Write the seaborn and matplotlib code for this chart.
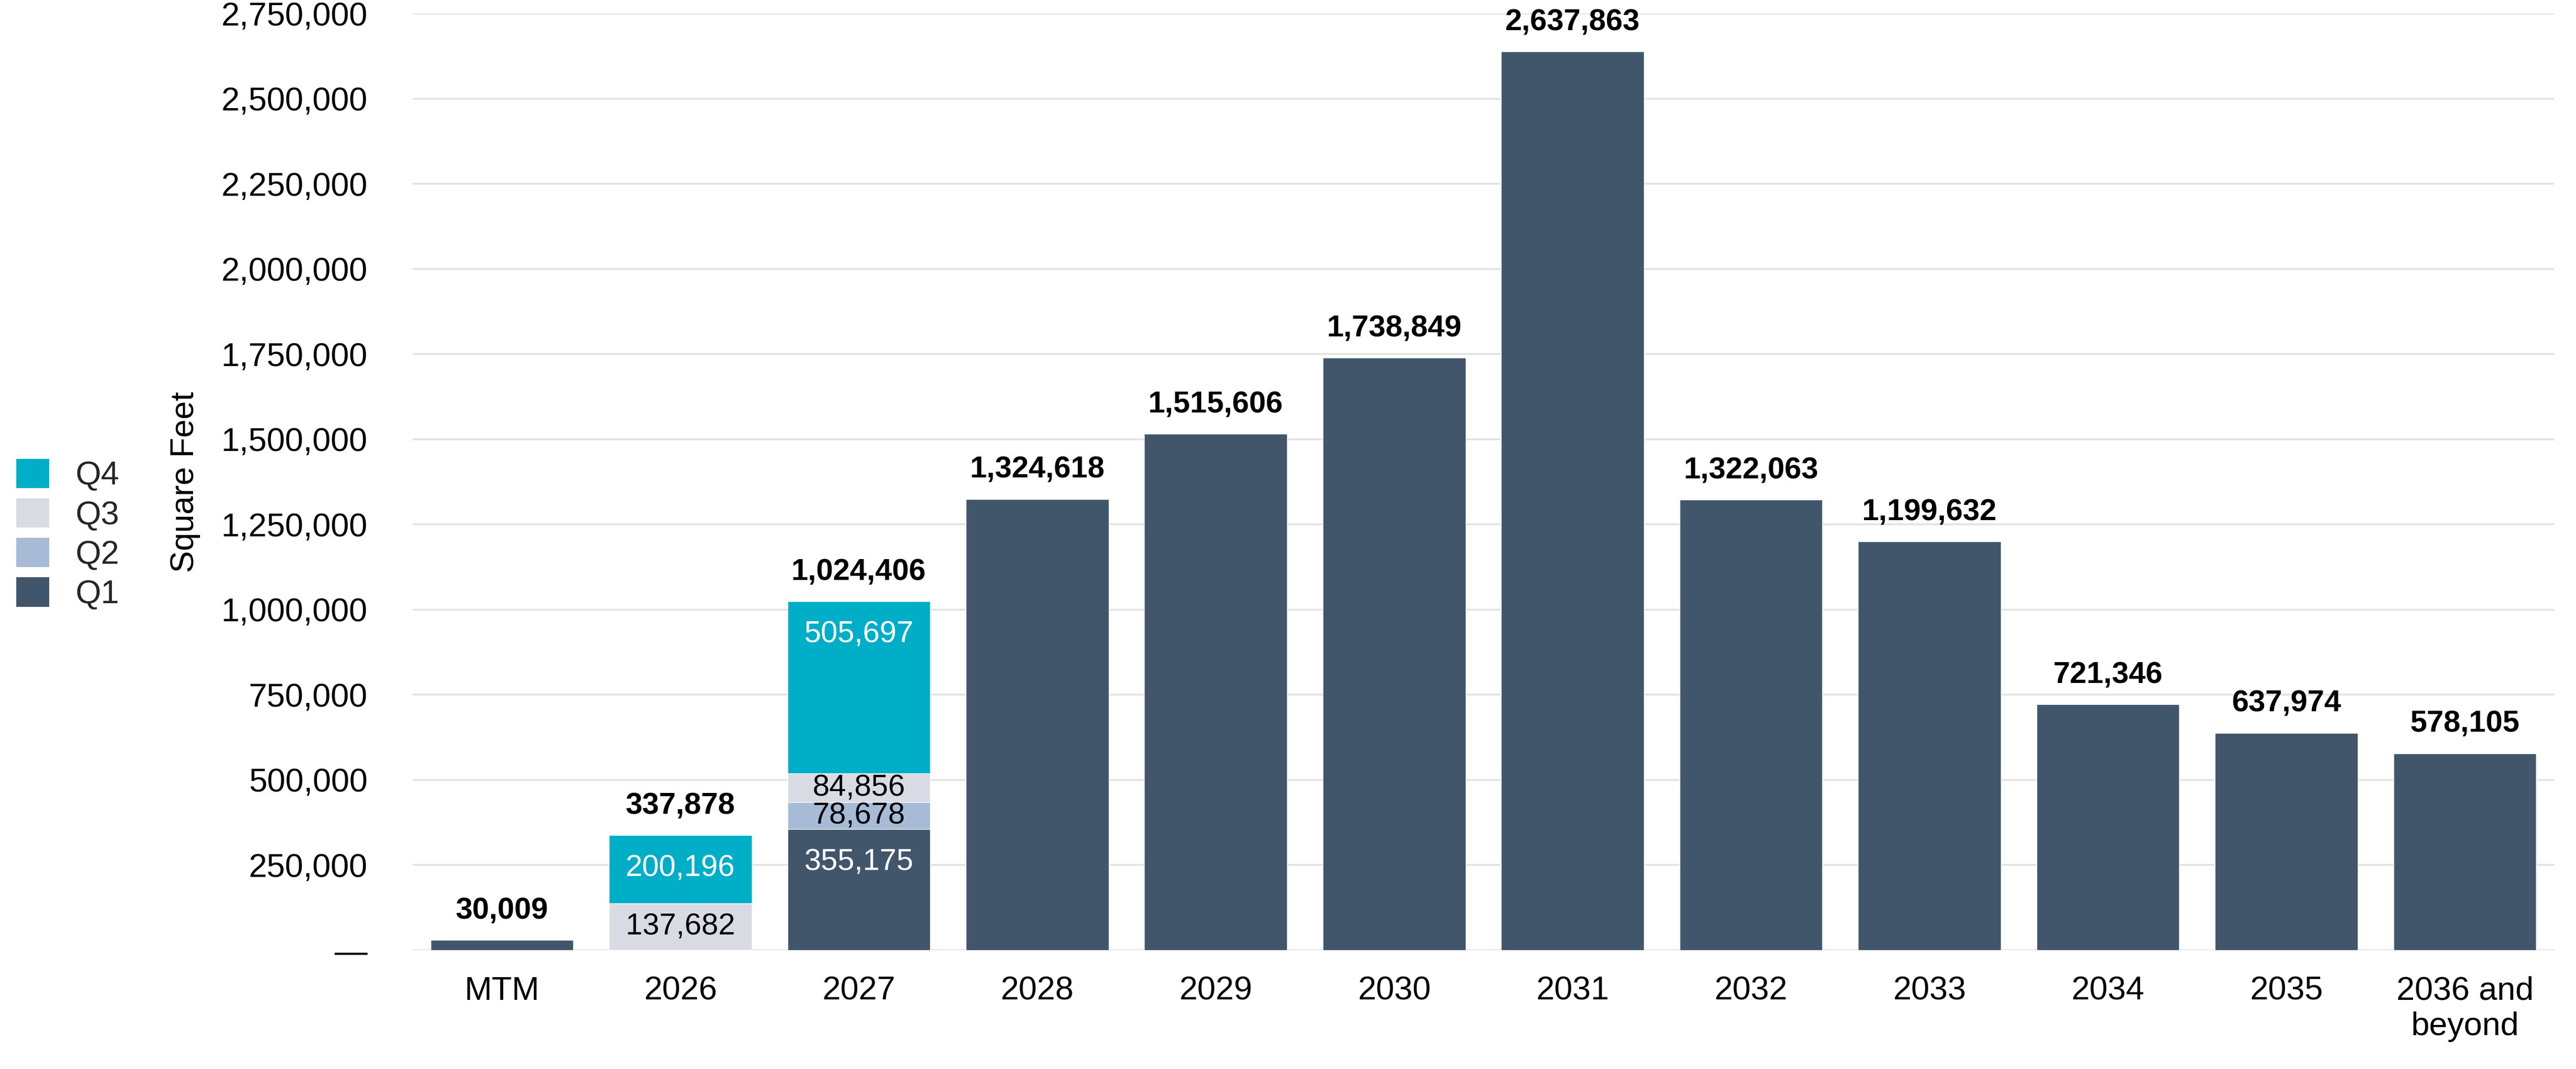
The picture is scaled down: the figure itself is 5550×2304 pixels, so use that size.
import numpy as np
import pandas as pd
import matplotlib
matplotlib.use("Agg")
import matplotlib.pyplot as plt
from matplotlib.patches import Patch
from matplotlib.ticker import FuncFormatter
import seaborn as sns

# lease expirations by year (square feet), quarters only split for 2026 / 2027
categories = ["MTM", "2026", "2027", "2028", "2029", "2030", "2031", "2032",
              "2033", "2034", "2035", "2036 and\nbeyond"]
q1 = [30009, 0, 355175, 1324618, 1515606, 1738849, 2637863, 1322063,
      1199632, 721346, 637974, 578105]
q2 = [0, 0, 78678, 0, 0, 0, 0, 0, 0, 0, 0, 0]
q3 = [0, 137682, 84856, 0, 0, 0, 0, 0, 0, 0, 0, 0]
q4 = [0, 200196, 505697, 0, 0, 0, 0, 0, 0, 0, 0, 0]
quarter_names = ["Q1", "Q2", "Q3", "Q4"]
y_ticks = [0, 250000, 500000, 750000, 1000000, 1250000, 1500000, 1750000,
           2000000, 2250000, 2500000, 2750000]

colors = {"Q1": "#41566B", "Q2": "#A7BBD6", "Q3": "#D8DBE4", "Q4": "#00AEC7"}
text_colors = {"Q1": "white", "Q2": "black", "Q3": "black", "Q4": "white"}

sns.set_style("white")
plt.rcParams["font.family"] = ["Liberation Sans", "DejaVu Sans"]
FS = 51
FS_LAB = 47

df = pd.DataFrame({"cat": categories, "Q1": q1, "Q2": q2, "Q3": q3, "Q4": q4})
parts = df[quarter_names].to_numpy()
cum = np.cumsum(parts, axis=1)
totals = cum[:, -1]

fig = plt.figure(figsize=(55.5, 23.04), dpi=100)
ax = fig.add_axes([0.1602, 0.1111, 0.8313, 0.8763])

# stacked bars: draw cumulative sums from the top layer down
for k in range(3, -1, -1):
    sns.barplot(x=df["cat"], y=cum[:, k], color=colors[quarter_names[k]],
                saturation=1, width=0.8, ax=ax, errorbar=None)

ax.set_xlim(-0.5, len(categories) - 0.5)
ax.set_ylim(0, 2750000)
ax.set_yticks(y_ticks)
ax.yaxis.set_major_formatter(FuncFormatter(lambda v, p: "\u2014" if v == 0 else f"{int(v):,}"))
ax.yaxis.grid(True, color="#E3E3E3", linewidth=3)
ax.set_axisbelow(True)
for s in ax.spines.values():
    s.set_visible(False)

ax.tick_params(axis="y", length=0, pad=70, labelsize=FS, labelcolor="black")
ax.tick_params(axis="x", length=26, width=3, color="#8C8C8C", pad=14,
               labelsize=FS, labelcolor="black")
ax.set_xlabel("")
ax.set_ylabel("Square Feet", fontsize=FS, color="black")
ax.yaxis.set_label_coords(-0.099, 0.5)

# totals on top
for i, t in enumerate(totals):
    ax.annotate(f"{int(t):,}", (i, t), xytext=(0, 24), textcoords="offset points",
                ha="center", va="bottom", fontsize=FS_LAB, fontweight="bold", color="black")

# segment labels where a bar is split into quarters
shift = 97000
for i in range(len(categories)):
    if np.count_nonzero(parts[i]) < 2:
        continue
    for k, q in enumerate(quarter_names):
        v = parts[i, k]
        if v == 0:
            continue
        top = cum[i, k]
        ypos = max(top - v / 2, top - shift)
        ax.text(i, ypos, f"{int(v):,}", ha="center", va="center",
                fontsize=FS_LAB, color=text_colors[q])

handles = [Patch(facecolor=colors[q], edgecolor="none", label=q) for q in ["Q4", "Q3", "Q2", "Q1"]]
fig.legend(handles=handles, loc="center left", bbox_to_anchor=(0.0, 0.5),
           frameon=False, fontsize=FS, handlelength=1.0, handleheight=1.0,
           handletextpad=0.8, labelspacing=0.2, borderaxespad=0.3, borderpad=0.2)

fig.savefig("out.png", dpi=100)
